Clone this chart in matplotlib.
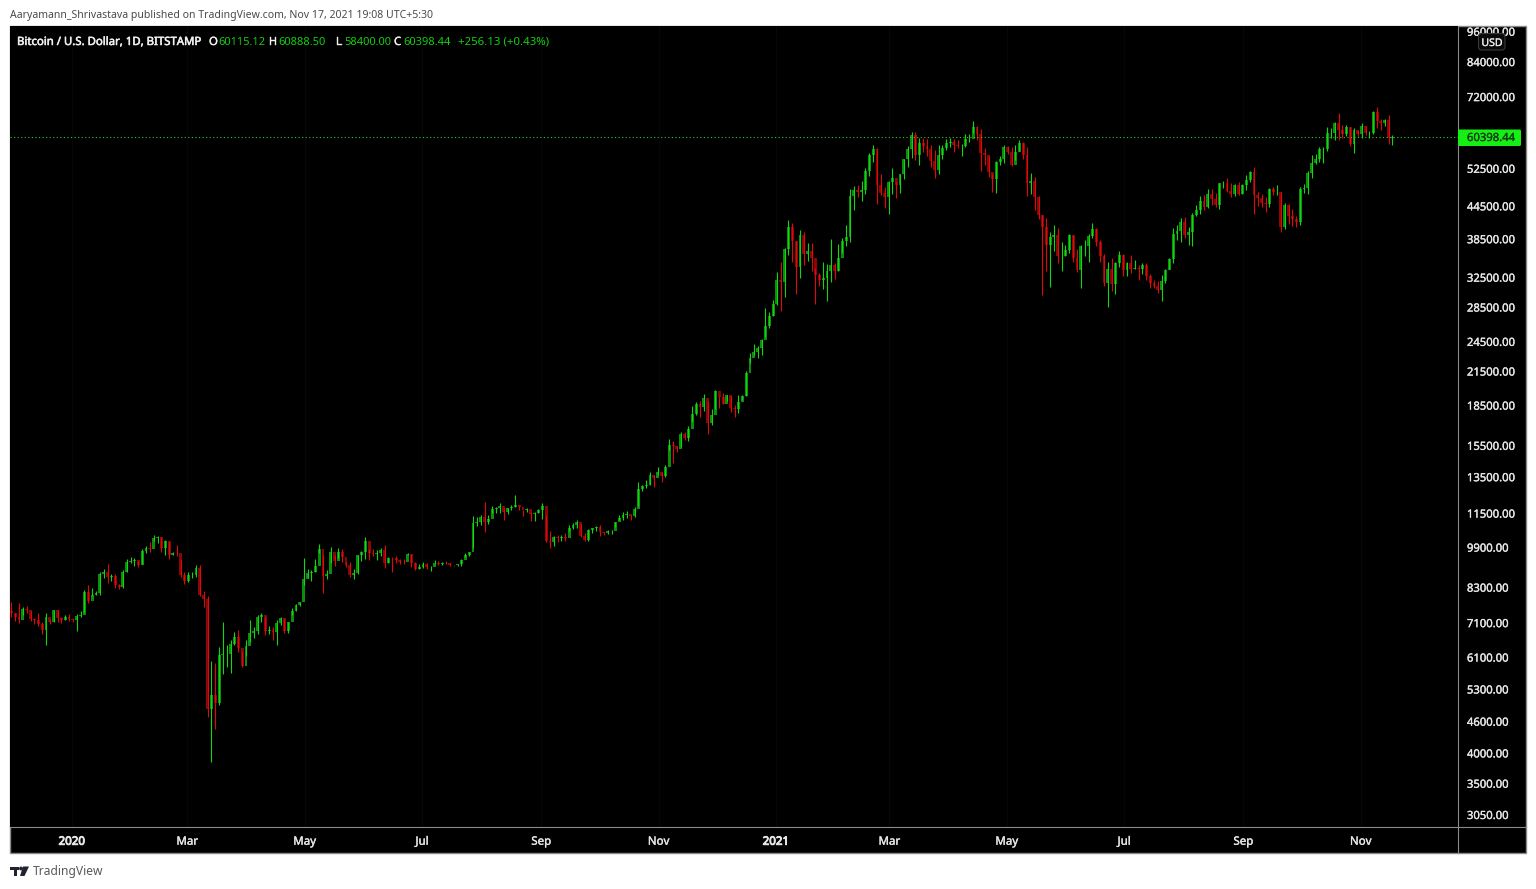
import matplotlib
matplotlib.use("Agg")
import matplotlib.pyplot as plt
import matplotlib.dates as mdates
import matplotlib.patheffects as pe
from matplotlib.patches import Rectangle, FancyBboxPatch, Polygon, Circle
from matplotlib.transforms import Affine2D
import numpy as np
import pandas as pd

plt.rcParams["font.family"] = ["Noto Sans", "DejaVu Sans"]

# two-day candles, one row = 30 days, first candle 2019-11-30
closes = [
    7420, 7300, 7190, 7540, 7510, 7220, 7190, 7070, 6880, 7280, 7150, 7510, 7250, 7200, 7300,
    7220, 7200, 7340, 7350, 8150, 7820, 8020, 8110, 8810, 8900, 8700, 8740, 8400, 8340, 8900,
    9290, 9350, 9370, 9170, 9760, 9900, 9850, 10350, 10360, 9900, 10180, 9600, 9670, 9660, 8780,
    8530, 8760, 8760, 9070, 8040, 7900, 4860, 5170, 5000, 6170, 6190, 6200, 6490, 6680, 6370,
    5880, 6420, 6800, 6870, 7280, 7360, 6860, 6900, 6840, 7110, 7260, 6860, 7120, 7500, 7700,
    7780, 8620, 8840, 8890, 9150, 9830, 8730, 8830, 9700, 9320, 9700, 9500, 9190, 8780, 8840,
    9580, 9700, 10200, 9670, 9620, 9670, 9780, 9270, 9470, 9450, 9380, 9300, 9280, 9630, 9250,
    9010, 9110, 9230, 9080, 9090, 9260, 9230, 9270, 9250, 9190, 9170, 9200, 9390, 9600, 9700,
    11030, 11100, 11350, 11070, 11210, 11750, 11770, 11870, 11570, 11770, 11860, 11950, 11850, 11680, 11760,
    11470, 11530, 11710, 11900, 10200, 10170, 10370, 10340, 10390, 10330, 10790, 10950, 11080, 10420, 10240,
    10690, 10780, 10840, 10620, 10550, 10670, 10670, 11060, 11300, 11430, 11500, 11360, 11750, 12830, 12980,
    13040, 13640, 13460, 13810, 13550, 14150, 15590, 15470, 15310, 16300, 16060, 16720, 17800, 18660, 18400,
    19150, 17140, 17720, 19700, 19230, 18650, 19370, 18330, 18250, 18810, 19270, 21330, 22800, 23480, 23820,
    24700, 26300, 27400, 29000, 32200, 31900, 36800, 40600, 38200, 34100, 39200, 36000, 36600, 35500, 32900,
    32200, 32400, 33400, 34300, 33500, 35500, 38200, 38800, 46500, 47900, 47300, 47900, 52000, 55900, 57400,
    48800, 47100, 46300, 49600, 50400, 48800, 51200, 54800, 57400, 60900, 55700, 58900, 58000, 57400, 54300,
    52300, 55800, 57600, 58800, 59000, 58200, 58100, 58100, 59800, 59800, 63200, 61300, 56200, 55900, 51700,
    50100, 54000, 54800, 57800, 56600, 53300, 56500, 58900, 55900, 49400, 49700, 46400, 42900, 40700, 37500,
    38800, 39200, 35700, 35700, 36700, 39200, 35500, 33600, 37300, 37300, 39000, 40200, 38100, 35800, 31700,
    33700, 31600, 34600, 35900, 33600, 34700, 33700, 33900, 33800, 34300, 32700, 31800, 31400, 30800, 32100,
    33600, 35300, 39400, 40000, 41500, 39200, 39800, 42800, 43800, 45500, 44400, 47000, 46000, 44800, 49300,
    49300, 47700, 47000, 48900, 46900, 48800, 50000, 51800, 46800, 46100, 45200, 44900, 48100, 47300, 47300,
    40700, 44800, 42600, 42100, 41500, 48100, 48200, 51500, 53800, 54900, 57200, 57300, 61500, 61500, 64200,
    62200, 61300, 63100, 58500, 62300, 61300, 63300, 61400, 61500, 67500, 64900, 64100, 65000, 60115.12, 60398.44,
]
highs = [
    7800, 7420, 7750, 7620, 7670, 7480, 7270, 7410, 7130, 7440, 7220, 7520, 7520, 7280, 7370,
    7380, 7260, 7400, 7490, 8200, 8400, 8280, 8190, 8900, 9000, 9200, 8800, 8800, 8430, 8980,
    9400, 9520, 9470, 9350, 9850, 9950, 10140, 10480, 10400, 10380, 10250, 10170, 9720, 10010, 9370,
    8900, 8900, 8900, 9180, 9170, 8190, 8000, 6000, 5960, 6400, 7130, 6450, 6600, 6830, 6880,
    6250, 6600, 7200, 6990, 7350, 7440, 7290, 7000, 6990, 7190, 7310, 7230, 7150, 7600, 7740,
    7800, 9460, 9000, 8980, 9400, 10040, 9580, 8980, 9930, 9600, 9900, 9850, 9300, 9310, 9000,
    9600, 9740, 10380, 9850, 9850, 9790, 9880, 10000, 9490, 9500, 9540, 9400, 9420, 9680, 9620,
    9290, 9230, 9280, 9260, 9150, 9390, 9350, 9280, 9350, 9270, 9190, 9220, 9410, 9660, 9730,
    11400, 11340, 11450, 12100, 11410, 11900, 11820, 12060, 11780, 11800, 11930, 12480, 11900, 11690, 11800,
    11560, 11590, 11720, 12060, 11420, 10640, 10420, 10460, 10480, 10580, 10940, 11040, 11170, 10990, 10580,
    10760, 10800, 10870, 10920, 10620, 10700, 10690, 11100, 11450, 11560, 11640, 11420, 11830, 13200, 13040,
    13350, 13800, 13650, 14100, 13820, 14260, 15970, 15800, 15460, 16480, 16480, 16900, 18480, 18810, 18900,
    19450, 18900, 18200, 19850, 19300, 19550, 19420, 19290, 18550, 19390, 19350, 21550, 23300, 24300, 24100,
    24800, 28400, 27900, 29500, 33300, 34800, 37000, 41950, 41400, 38200, 40100, 39700, 37800, 37900, 33900,
    33200, 34800, 34500, 38500, 34700, 37700, 38700, 40900, 48100, 48600, 48900, 49700, 52600, 56300, 58400,
    57600, 51400, 48400, 49800, 52600, 49500, 51400, 54900, 58100, 61800, 61700, 60000, 60000, 59900, 58400,
    57000, 58400, 58400, 59800, 60000, 59800, 59500, 58600, 61200, 61300, 64800, 63500, 62500, 57500, 55500,
    51200, 54400, 55500, 58400, 58000, 57900, 58400, 59500, 59200, 57900, 51500, 50700, 46500, 42900, 42200,
    39800, 40900, 40400, 38000, 37500, 39400, 39200, 36800, 37500, 38400, 39400, 41300, 40500, 38300, 36000,
    34900, 35400, 34800, 36600, 36000, 34900, 35900, 35100, 34300, 34600, 34700, 33100, 32200, 32000, 32900,
    33700, 35400, 40500, 40900, 42300, 42500, 40600, 43300, 44700, 46500, 46700, 48100, 48100, 47100, 49300,
    49800, 50500, 49300, 49200, 49600, 49000, 51000, 52000, 52900, 47300, 47000, 46400, 48300, 48500, 48800,
    47400, 45200, 45000, 44000, 42600, 48400, 49200, 51900, 55700, 56000, 57800, 57800, 63000, 62800, 64400,
    67000, 63800, 63700, 63000, 62900, 62400, 64300, 63500, 62000, 67800, 69000, 65500, 65500, 66400, 60888.50,
]
lows = [
    7300, 7180, 7090, 7370, 7420, 7170, 7080, 7020, 6760, 6440, 7080, 7130, 7130, 7100, 7190,
    7160, 7150, 6860, 7300, 7470, 7750, 7990, 8040, 8050, 8670, 8470, 8550, 8270, 8240, 8290,
    8890, 9250, 9150, 9110, 9200, 9690, 9730, 10200, 10120, 9730, 9570, 9400, 9580, 9550, 8690,
    8450, 8500, 8660, 8700, 8000, 7630, 4700, 3850, 4450, 4950, 5670, 5860, 5690, 6450, 6250,
    5860, 6150, 6530, 6660, 6780, 7140, 6750, 6780, 6600, 6460, 7030, 6810, 6810, 7370, 7480,
    7650, 8400, 8660, 8530, 8900, 9650, 8100, 8620, 9270, 9120, 9460, 9300, 9080, 8700, 8630,
    8800, 9350, 9420, 9370, 9530, 9380, 9530, 9050, 9250, 8900, 9260, 9230, 9210, 9570, 9110,
    8960, 9000, 9060, 9000, 8930, 9200, 9180, 9170, 9220, 9140, 9120, 9140, 9140, 9500, 9550,
    9880, 10900, 10950, 10600, 11000, 11550, 11550, 11530, 11180, 11500, 11700, 11830, 11680, 11380, 11590,
    11130, 11130, 11520, 11250, 10150, 9870, 9990, 10130, 10210, 10200, 10650, 10770, 10810, 10370, 10200,
    10210, 10540, 10640, 10430, 10480, 10530, 10520, 10830, 11200, 11200, 11260, 11200, 11340, 11890, 12720,
    12900, 13050, 12950, 13620, 13200, 13530, 15200, 14400, 15090, 15450, 15900, 15850, 17200, 17750, 17600,
    18030, 16300, 17000, 18200, 18350, 18600, 18900, 18000, 17620, 17900, 19000, 19270, 22300, 23100, 22800,
    23100, 25000, 26100, 27500, 28800, 28100, 29900, 35900, 34800, 30300, 32500, 34400, 35000, 33400, 28900,
    31400, 30900, 29300, 31900, 32300, 33400, 36200, 37300, 38000, 43700, 46300, 45500, 47000, 50900, 54000,
    44900, 46700, 44100, 43100, 47000, 46200, 47100, 50300, 53000, 55000, 54500, 53300, 56500, 55500, 53000,
    50400, 51300, 54700, 57000, 57900, 56500, 57600, 55500, 57900, 59000, 61500, 59700, 52000, 53500, 50600,
    47500, 47100, 53300, 53900, 56100, 53100, 54500, 56700, 54900, 46600, 46900, 43800, 42100, 30100, 33500,
    31200, 36500, 34700, 33400, 35700, 36200, 34800, 33300, 31000, 35800, 34900, 38700, 37400, 34900, 31300,
    28600, 30700, 30200, 34000, 32700, 32700, 33200, 33700, 32200, 33000, 32200, 31100, 31000, 30400, 29300,
    31700, 33800, 34600, 38400, 38000, 38700, 37500, 37400, 42600, 43100, 43700, 44200, 44800, 44300, 43900,
    48200, 47500, 46400, 46500, 46700, 46900, 47900, 49500, 43000, 44600, 44300, 43500, 44400, 46800, 46800,
    39700, 40300, 41200, 40800, 40700, 41000, 47100, 46900, 50400, 53600, 54100, 53900, 56800, 60200, 59700,
    59700, 60000, 60700, 58100, 56200, 60300, 60100, 60800, 60100, 61300, 62800, 62300, 63400, 58600, 58400,
]
first_open = 7500
last_price = 60398.44

price_ticks = [96000, 84000, 72000, 52500, 44500, 38500, 32500, 28500, 24500, 21500, 18500, 15500,
               13500, 11500, 9900, 8300, 7100, 6100, 5300, 4600, 4000, 3500, 3050]
time_ticks = ["2020-01-01", "2020-03-01", "2020-05-01", "2020-07-01", "2020-09-01", "2020-11-01",
              "2021-01-01", "2021-03-01", "2021-05-01", "2021-07-01", "2021-09-01", "2021-11-01"]
time_labels = ["2020", "Mar", "May", "Jul", "Sep", "Nov", "2021", "Mar", "May", "Jul", "Sep", "Nov"]

W, H = 1536, 889
BORDER = "#8a8a8a"
UP, DOWN = "#10d810", "#e00808"
UP_BODY, DOWN_BODY = "#0b8f0b", "#8a0606"


def heavy(width):
    # reference text is blurred and looks heavier than the plain font
    return [pe.Stroke(linewidth=width), pe.Normal()]


closes = np.array(closes, dtype=float)
highs = np.array(highs, dtype=float)
lows = np.array(lows, dtype=float)
opens = np.r_[first_open, closes[:-1]]
dates = pd.date_range("2019-11-30", periods=len(closes), freq="2D")
x = mdates.date2num(dates) + 0.5
rising = closes >= opens

fig = plt.figure(figsize=(W / 100, H / 100), dpi=100, facecolor="white")
# pixel coordinates of the reference, y going down
pix = Affine2D().scale(1 / W, -1 / H).translate(0, 1) + fig.transFigure

fig.add_artist(Rectangle((10, 26), 1516, 827, transform=pix, facecolor="black",
                         edgecolor=BORDER, linewidth=1, zorder=-1))

ax = fig.add_axes([10 / W, (H - 827) / H, 1447.5 / W, 801 / H], facecolor="black")
ax.set_yscale("log")
ax.set_ylim(2893, 98460)
day0 = mdates.date2num(pd.Timestamp("2020-01-01"))
ax.set_xlim(day0 - 32.2, day0 + 720.3)

ax.vlines(x[rising], lows[rising], highs[rising], color=UP, linewidth=0.8)
ax.vlines(x[~rising], lows[~rising], highs[~rising], color=DOWN, linewidth=0.8)
ax.bar(x[rising], (closes - opens)[rising], bottom=opens[rising], width=1.5, color=UP_BODY, linewidth=0)
ax.bar(x[~rising], (opens - closes)[~rising], bottom=closes[~rising], width=1.5, color=DOWN_BODY, linewidth=0)

ax.axhline(last_price, color="#22d022", linewidth=0.8, linestyle=(0, (1, 2.2)))

ax.yaxis.tick_right()
ax.set_yticks(price_ticks)
ax.set_yticklabels([f"{p:.2f}" for p in price_ticks])
ax.minorticks_off()
ax.tick_params(axis="y", which="both", length=0, pad=6.8, labelcolor="#e6e6e6", labelsize=8.1)
for lab in ax.get_yticklabels():
    lab.set_path_effects(heavy(0.25))

ax.set_xticks(mdates.date2num(pd.to_datetime(time_ticks)))
ax.set_xticklabels(time_labels)
ax.tick_params(axis="x", length=0, pad=7, labelcolor="#e6e6e6", labelsize=8.3)
for lab in ax.get_xticklabels():
    lab.set_path_effects(heavy(0.7 if lab.get_text().startswith("20") else 0.25))
ax.grid(axis="x", color="#070707", linewidth=0.8)
ax.set_axisbelow(True)
for s in ax.spines.values():
    s.set_color(BORDER)
    s.set_linewidth(0.8)
ax.spines["top"].set_visible(False)
ax.spines["left"].set_visible(False)

fig.add_artist(plt.Line2D([1457.5, 1457.5], [827, 853], transform=pix, color=BORDER, linewidth=0.8))
fig.add_artist(plt.Line2D([1457.5, 1526], [827, 827], transform=pix, color=BORDER, linewidth=0.8))

# last price tag
fig.add_artist(FancyBboxPatch((1458, 129.5), 63, 16.5, boxstyle="round,pad=0,rounding_size=1.5", transform=pix,
                              facecolor="#14f014", edgecolor="none", zorder=3))
fig.text(1467 / W, 1 - 138.5 / H, "60398.44", color="#173f17", fontsize=8.1, va="center", zorder=4,
         path_effects=heavy(0.25))

# currency badge over the top tick
fig.add_artist(FancyBboxPatch((1478.5, 33.5), 26.5, 16.5, boxstyle="round,pad=0,rounding_size=3", transform=pix,
                              facecolor="#0a0a0a", edgecolor="#3a3a3a", linewidth=0.8, zorder=3))
fig.text(1492 / W, 1 - 43.5 / H, "USD", color="#e6e6e6", fontsize=7.6, ha="center", va="center", zorder=4,
         path_effects=heavy(0.25))

# header
fig.text(10 / W, 1 - 15.5 / H, "Aaryamann_Shrivastava published on TradingView.com, Nov 17, 2021 19:08 UTC+5:30",
         color="#4a4a4a", fontsize=7.55, va="center")
fig.text(17 / W, 1 - 42.5 / H, "Bitcoin / U.S. Dollar, 1D, BITSTAMP", color="#f0f0f0", fontsize=8.2,
         va="center", path_effects=heavy(0.4))
GREEN = "#10d010"
for xp, head, val, gap in [(209, "O", "60115.12", 9), (269, "H", "60888.50", 9),
                           (336, "L", "58400.00", 8), (394, "C", "60398.44", 9)]:
    fig.text(xp / W, 1 - 42.5 / H, head, color="#f0f0f0", fontsize=8.2, va="center", path_effects=heavy(0.3))
    fig.text((xp + gap) / W, 1 - 42.5 / H, val, color=GREEN, fontsize=8, va="center")
fig.text(458 / W, 1 - 42.5 / H, "+256.13 (+0.43%)", color=GREEN, fontsize=8.2, va="center")

# footer logo and name
LOGO = "#1f2430"
fig.add_artist(Rectangle((10, 866.5), 9, 3.5, transform=pix, facecolor=LOGO, edgecolor="none"))
fig.add_artist(Rectangle((13.5, 866.5), 3.5, 9.5, transform=pix, facecolor=LOGO, edgecolor="none"))
fig.add_artist(Circle((21, 868.5), 1.9, transform=pix, facecolor=LOGO, edgecolor="none"))
fig.add_artist(Polygon([(23, 866.5), (29, 866.5), (24.5, 876), (20, 876)], transform=pix, facecolor=LOGO, edgecolor="none"))
fig.text(33 / W, 1 - 872 / H, "TradingView", color="#5a5a5a", fontsize=8.7, va="center")

fig.savefig("out.png", dpi=100, facecolor="white")
